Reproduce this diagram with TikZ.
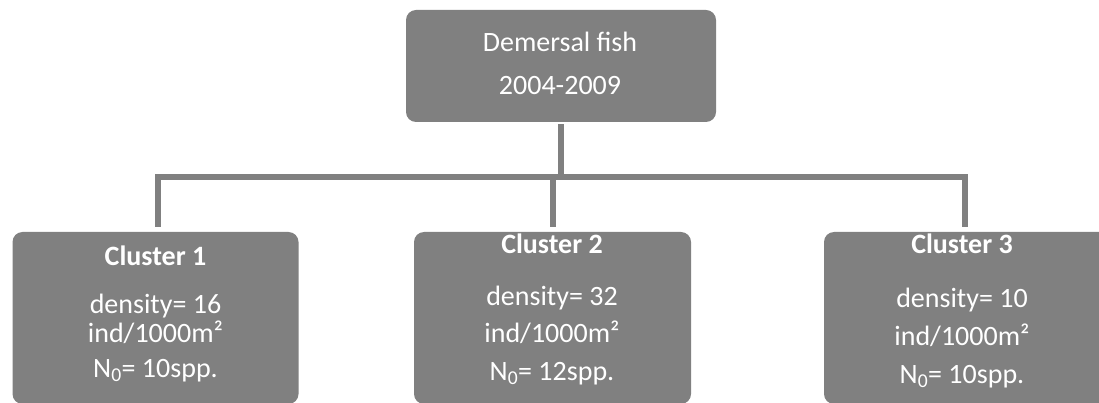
\documentclass[tikz,border=0pt]{standalone}
\usepackage{fontspec}
\setmainfont{Carlito}
\definecolor{boxgray}{HTML}{808080}
\tikzset{
  x=1pt, y=-1pt,
  boxnode/.style={fill=boxgray, draw=none, rounded corners=10pt, inner sep=0pt},
  conn/.style={draw=boxgray, line width=6pt},
  txt/.style={text=white, anchor=base, inner sep=0pt, font=\fontsize{28}{30}\selectfont},
  btxt/.style={txt, font=\fontsize{28}{30}\selectfont\bfseries},
}
\begin{document}
\begin{tikzpicture}
\useasboundingbox (0,0) rectangle (1099,403);
% boxes
\node[boxnode, minimum width=310pt, minimum height=112pt] (top) at (561,66) {};
\node[boxnode, minimum width=286pt, minimum height=172pt] (c1) at (155.5,318) {};
\node[boxnode, minimum width=277pt, minimum height=172pt] (c2) at (552.5,318) {};
\node[boxnode, minimum width=290pt, minimum height=172pt] (c3) at (969,318) {};
% connectors
\coordinate (j) at (561,177);
\draw[conn] ([yshift=-2pt]top.south) -- (j);
\draw[conn] ([xshift=2pt,yshift=5pt]c1.north) |- (j);
\draw[conn] ([yshift=5pt]c2.north) |- (j);
\draw[conn] ([xshift=-4pt,yshift=5pt]c3.north) |- (j);
% top text
\node[txt] (t1) at (560,52) {Demersal fish};
\node[txt] (t2) at (560,95) {2004-2009};
% cluster 1
\node[btxt] (a1) at (155.5,265) {Cluster 1};
\node[txt] (a2) at (155.5,313) {density= 16};
\node[txt] (a3) at (155.5,342) {ind/1000m²};
\node[txt] (a4) at (155.5,377) {N\textsubscript{0}= 10spp.};
% cluster 2
\node[btxt] (b1) at (552,253) {Cluster 2};
\node[txt] (b2) at (552,305) {density= 32};
\node[txt] (b3) at (552,342) {ind/1000m²};
\node[txt] (b4) at (552,380) {N\textsubscript{0}= 12spp.};
% cluster 3
\node[btxt] (d1) at (962,253) {Cluster 3};
\node[txt] (d2) at (962,307) {density= 10};
\node[txt] (d3) at (962,345) {ind/1000m²};
\node[txt] (d4) at (962,383) {N\textsubscript{0}= 10spp.};
\end{tikzpicture}
\end{document}
